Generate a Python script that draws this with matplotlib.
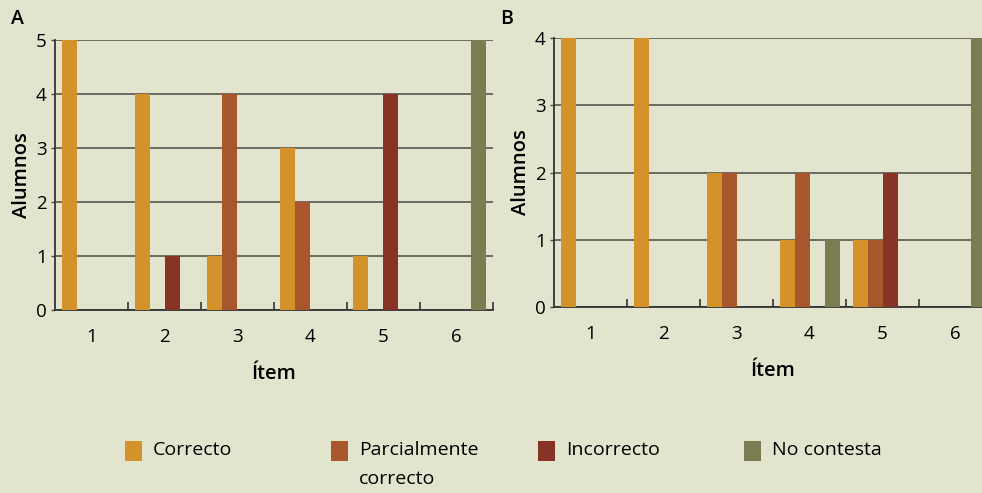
import numpy as np
import matplotlib
matplotlib.use("Agg")
import matplotlib.pyplot as plt
from matplotlib.patches import Rectangle

plt.rcParams['font.family'] = ['Open Sans', 'DejaVu Sans']

# data
items = ['1', '2', '3', '4', '5', '6']
categories = ['Correcto', 'Parcialmente\ncorrecto', 'Incorrecto', 'No contesta']
colors = ['#d4922b', '#a8572c', '#873325', '#7b7c52']

a_correcto = [5, 4, 1, 3, 1, 0]
a_parcial = [0, 0, 4, 2, 0, 0]
a_incorrecto = [0, 1, 0, 0, 4, 0]
a_no_contesta = [0, 0, 0, 0, 0, 5]

b_correcto = [4, 4, 2, 1, 1, 0]
b_parcial = [0, 0, 2, 2, 1, 0]
b_incorrecto = [0, 0, 0, 0, 2, 0]
b_no_contesta = [0, 0, 0, 1, 0, 4]

bg = '#e3e4ce'
W, H = 982, 493
fig = plt.figure(figsize=(9.82, 4.93), dpi=100, facecolor=bg)


def panel(rect, series, ymax, letter, letter_xy):
    ax = fig.add_axes(rect)
    ax.set_facecolor(bg)
    x = np.arange(len(items))
    w = 15 / 73
    for i, (vals, c) in enumerate(zip(series, colors)):
        ax.bar(x + (i - 1.5) * w, vals, width=w, color=c, zorder=3)
    ax.set_xlim(-0.5, len(items) - 0.5)
    ax.set_ylim(0, ymax)
    ax.set_yticks(range(ymax + 1))
    ax.yaxis.grid(True, color='#4a4a44', linewidth=1.1, zorder=1)
    ax.set_axisbelow(True)
    ax.set_xticks(x)
    ax.set_xticklabels(items, fontsize=13.5)
    ax.set_xticks(np.arange(0.5, len(items) + 0.5, 1), minor=True)
    ax.tick_params(axis='x', which='major', length=0, pad=13)
    ax.tick_params(axis='x', which='minor', direction='in', length=6, width=1.2, color='#333333')
    ax.tick_params(axis='y', length=3, width=1, color='#4a4a44', labelsize=13.5, pad=3)
    for s in ['top', 'right']:
        ax.spines[s].set_visible(False)
    for s in ['left', 'bottom']:
        ax.spines[s].set_color('#333333')
        ax.spines[s].set_linewidth(1.3)
    ax.set_xlabel('Ítem', fontsize=14.5, fontweight='semibold', labelpad=13)
    ax.set_ylabel('Alumnos', fontsize=14.5, fontweight='semibold', labelpad=3)
    fig.text(letter_xy[0] / W, 1 - letter_xy[1] / H, letter, fontsize=14,
             fontweight='semibold', ha='left', va='center')
    return ax


panel([55 / W, 1 - 310 / H, 438 / W, 270 / H],
      [a_correcto, a_parcial, a_incorrecto, a_no_contesta], 5, 'A', (11, 19))
panel([554 / W, 1 - 307 / H, 438 / W, 269 / H],
      [b_correcto, b_parcial, b_incorrecto, b_no_contesta], 4, 'B', (500, 19))

# legend drawn by hand so the two-line label hangs below its swatch
leg_x = [125, 331, 538, 744]
for lx, lab, c in zip(leg_x, categories, colors):
    fig.patches.append(Rectangle((lx / W, 1 - 461 / H), 17 / W, 20 / H,
                                 transform=fig.transFigure, facecolor=c,
                                 edgecolor='none'))
    fig.text((lx + 28) / W, 1 - 441 / H, lab, fontsize=14, ha='left',
             va='top', linespacing=1.75)

fig.savefig('out.png', dpi=100, facecolor=bg)
